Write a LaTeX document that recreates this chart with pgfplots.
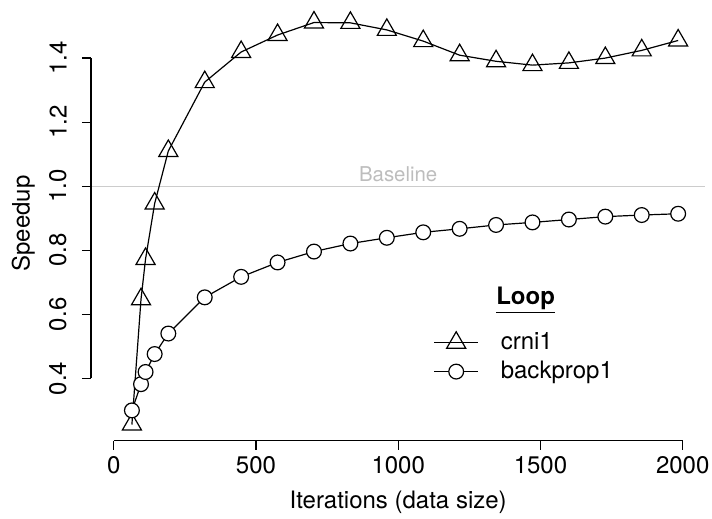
\documentclass[border=0pt]{standalone}
\usepackage{fontspec}
\setmainfont{TeX Gyre Heros}
\usepackage{pgfplots}
\pgfplotsset{compat=1.18}
\definecolor{baseg}{gray}{0.80}
\definecolor{baset}{gray}{0.74}
\newcommand{\mainfs}{\fontsize{12}{14.4}\selectfont}
\begin{document}
\mainfs
\begin{tikzpicture}
\useasboundingbox (0,0) rectangle (356pt,259.5pt);
\begin{axis}[
 at={(45.47pt,39.2pt)}, anchor=south west,
 scale only axis, width=307.26pt, height=217.07pt,
 xmin=-80, xmax=2080, ymin=0.2058, ymax=1.5612,
 clip=false,
 axis x line*=bottom, axis y line*=left,
 axis line style={draw=none},
 tick align=outside, major tick length=4.5pt,
 tick style={black, line width=0.6pt},
 xtick={0,500,1000,1500,2000},
 ytick={0.4,0.6,0.8,1.0,1.2,1.4},
 /pgf/number format/assume math mode=true,
 /pgf/number format/1000 sep={},
 tick label style={font=\mainfs},
 xticklabel style={inner sep=2pt, yshift=-1pt},
 yticklabel style={rotate=90, anchor=south, inner xsep=0pt, inner ysep=7.5pt,
   /pgf/number format/fixed, /pgf/number format/fixed zerofill,
   /pgf/number format/precision=1},
 legend style={at={(axis cs:1123,0.467)}, anchor=west, draw=none, fill=none,
   inner sep=0pt, column sep=11pt, row sep=4pt, font=\mainfs,
   nodes={inner sep=0pt}},
 legend cell align=left,
 legend image code/.code={\draw[mark repeat=2,mark phase=2] plot coordinates {(0pt,0pt)(11pt,0pt)(22pt,0pt)};},
]
\addplot[baseg, line width=0.5pt, forget plot] coordinates {(-80,1) (2080,1)};
\addplot[black, line width=0.6pt, mark=triangle, mark size=5.5pt, mark options={fill=white, solid}] coordinates {
(64,0.256) (96,0.647) (112,0.773) (144,0.946) (192,1.110) (320,1.325) (448,1.419)
(576,1.472) (704,1.511) (832,1.510) (960,1.488) (1088,1.453) (1216,1.409)
(1344,1.390) (1472,1.378) (1600,1.385) (1728,1.400) (1856,1.424) (1984,1.455)};
\addlegendentry{crni1}
\addplot[black, line width=0.6pt, mark=*, mark size=3.7pt, mark options={fill=white, solid}] coordinates {
(64,0.300) (96,0.382) (112,0.420) (144,0.476) (192,0.540) (320,0.653) (448,0.717)
(576,0.762) (704,0.796) (832,0.821) (960,0.839) (1088,0.856) (1216,0.867)
(1344,0.879) (1472,0.887) (1600,0.896) (1728,0.905) (1856,0.910) (1984,0.914)};
\addlegendentry{backprop1}
\draw[line width=0.6pt] (axis cs:-80,0.4) -- (axis cs:-80,1.4);
\draw[line width=0.6pt] (axis cs:0,0.2058) -- (axis cs:2000,0.2058);
\node[baset, font=\fontsize{10.2}{12}\selectfont, anchor=base] at (axis cs:1000,1.015) {Baseline};
\node[anchor=base, font=\mainfs] at (axis cs:1448,0.630) {\underline{\textbf{Loop}}};
\end{axis}
\node[anchor=base, font=\mainfs] at (199.1pt,5.3pt) {Iterations (data size)};
\node[anchor=base, rotate=90, font=\mainfs] at (14.75pt,147.75pt) {Speedup};
\end{tikzpicture}
\end{document}
